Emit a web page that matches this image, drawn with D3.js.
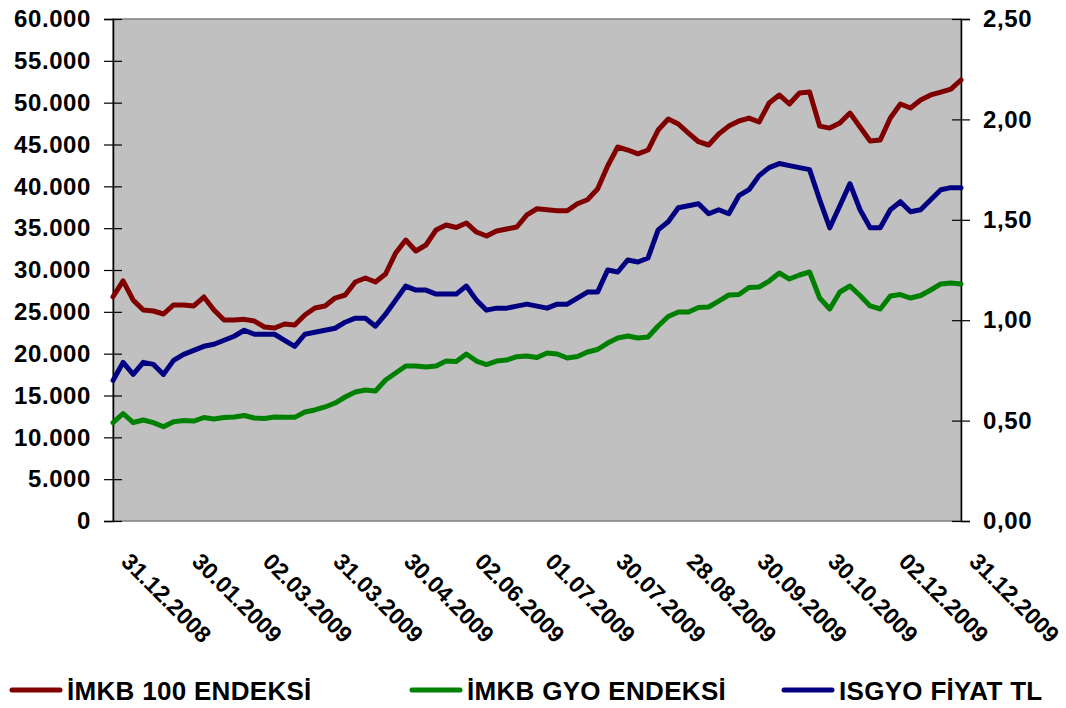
<!DOCTYPE html>
<html>
<head>
<meta charset="utf-8">
<script src="https://cdn.jsdelivr.net/npm/d3@7"></script>
<style>
  body { margin: 0; background: #fff; }
  text { font-family: Arial, "Liberation Sans", sans-serif; font-weight: bold; fill: #000; }
</style>
</head>
<body>
<svg width="1066" height="708"></svg>
<script>
// trading days, one value every 3rd day (31.12.2008 .. 31.12.2009)
var dayStep = 3;

var imkb100 = [26800,28700,26400,25220,25100,24740,25820,25820,25700,26770,
  25220,24020,24020,24100,23900,23190,23070,23550,23430,24620,
  25460,25700,26650,27010,28570,29040,28570,29520,32030,33580,
  32270,32990,34780,35380,35080,35620,34540,34060,34660,34900,
  35140,36580,37320,37200,37080,37080,37920,38400,39680,42430,
  44700,44340,43890,44340,46730,48050,47450,46370,45330,44940,
  46250,47200,47810,48160,47690,49960,50920,49840,51150,51270,
  47200,46960,47570,48760,47090,45420,45540,48160,49840,49360,
  50320,50920,51270,51630,52710];

var imkbGyo = [11750,12850,11770,12070,11750,11270,11870,12010,11950,12370,
  12190,12370,12430,12610,12310,12250,12430,12390,12390,13030,
  13270,13630,14100,14820,15420,15660,15540,16850,17690,18530,
  18530,18410,18530,19120,19060,19960,19120,18700,19120,19240,
  19640,19720,19540,20080,19960,19480,19660,20200,20500,21270,
  21870,22110,21870,21990,23310,24440,24980,24980,25520,25580,
  26290,27010,27070,27910,27970,28680,29640,28920,29400,29760,
  26650,25340,27370,28090,26950,25700,25340,26890,27070,26650,
  26950,27610,28330,28440,28330];

var isgyo = [0.70,0.79,0.73,0.79,0.78,0.73,0.80,0.83,0.85,0.87,
  0.88,0.90,0.92,0.95,0.93,0.93,0.93,0.90,0.87,0.93,
  0.94,0.95,0.96,0.99,1.01,1.01,0.97,1.03,1.10,1.17,
  1.15,1.15,1.13,1.13,1.13,1.17,1.10,1.05,1.06,1.06,
  1.07,1.08,1.07,1.06,1.08,1.08,1.11,1.14,1.14,1.25,
  1.24,1.30,1.29,1.31,1.45,1.49,1.56,1.57,1.58,1.53,
  1.55,1.53,1.62,1.65,1.72,1.76,1.78,1.77,1.76,1.75,
  1.60,1.46,1.57,1.68,1.55,1.46,1.46,1.55,1.59,1.54,
  1.55,1.60,1.65,1.66,1.66];

var dateLabels = ["31.12.2008","30.01.2009","02.03.2009","31.03.2009","30.04.2009",
  "02.06.2009","01.07.2009","30.07.2009","28.08.2009","30.09.2009",
  "30.10.2009","02.12.2009","31.12.2009"];

var leftTicks = d3.range(0, 60001, 5000);
var rightTicks = [0, 0.5, 1, 1.5, 2, 2.5];

var legendNames = ["İMKB 100 ENDEKSİ", "İMKB GYO ENDEKSİ", "ISGYO FİYAT TL"];
var colors = ["#800000", "#008000", "#000080"];

var svg = d3.select("svg"),
  margin = {top: 19, right: 105, bottom: 187, left: 113},
  width = 1066 - margin.left - margin.right,
  height = 708 - margin.top - margin.bottom,
  g = svg.append("g").attr("transform", "translate(" + margin.left + "," + margin.top + ")");

var lastDay = (imkb100.length - 1) * dayStep;

var x = d3.scaleLinear().domain([0, lastDay]).range([0, width]);
var yL = d3.scaleLinear().domain([0, 60000]).range([height, 0]);
var yR = d3.scaleLinear().domain([0, 2.5]).range([height, 0]);

var tr = d3.formatLocale({decimal: ",", thousands: ".", grouping: [3], currency: ["", ""]});

g.append("rect")
  .attr("width", width)
  .attr("height", height)
  .attr("fill", "#c0c0c0")
  .attr("stroke", "#808080")
  .attr("stroke-width", 1.5);

var axL = g.append("g")
  .call(d3.axisLeft(yL).tickValues(leftTicks).tickSize(9).tickPadding(13).tickFormat(tr.format(",.0f")));
var axR = g.append("g")
  .attr("transform", "translate(" + width + ",0)")
  .call(d3.axisRight(yR).tickValues(rightTicks).tickSize(9).tickPadding(13).tickFormat(tr.format(",.2f")));

[axL, axR].forEach(function(ax, i) {
  ax.select(".domain").attr("stroke", "#000").attr("stroke-width", 1.5);
  ax.selectAll(".tick line").attr("x1", i === 0 ? 9 : -9).attr("stroke", "#000").attr("stroke-width", 1.2);
  ax.selectAll(".tick text")
    .attr("font-size", 24)
    .attr("letter-spacing", 0.6)
    .attr("font-family", null);
});

// x labels, every 21 trading days
g.append("g").selectAll("text")
  .data(dateLabels)
  .enter().append("text")
  .attr("transform", function(d, i) {
    return "translate(" + (x(i * 21) + 19) + "," + (height + 30) + ") rotate(45)";
  })
  .attr("dominant-baseline", "hanging")
  .attr("font-size", 23)
  .text(function(d) { return d; });

var series = [
  {values: imkb100, y: yL},
  {values: imkbGyo, y: yL},
  {values: isgyo, y: yR}
];

series.forEach(function(s, i) {
  var line = d3.line()
    .x(function(d, j) { return x(j * dayStep); })
    .y(function(d) { return s.y(d); });
  g.append("path")
    .datum(s.values)
    .attr("fill", "none")
    .attr("stroke", colors[i])
    .attr("stroke-width", 5)
    .attr("stroke-linejoin", "round")
    .attr("stroke-linecap", "round")
    .attr("d", line);
});

// legend
var legendX = [10, 410, 782];
var legend = svg.append("g").selectAll("g")
  .data(legendNames)
  .enter().append("g")
  .attr("transform", function(d, i) { return "translate(" + legendX[i] + ",690)"; });

legend.append("line")
  .attr("x1", 2).attr("x2", 50)
  .attr("stroke", function(d, i) { return colors[i]; })
  .attr("stroke-width", 5)
  .attr("stroke-linecap", "round");

legend.append("text")
  .attr("x", 57)
  .attr("y", 10)
  .attr("font-size", 26)
  .attr("letter-spacing", 0.3)
  .text(function(d) { return d; });
</script>
</body>
</html>
